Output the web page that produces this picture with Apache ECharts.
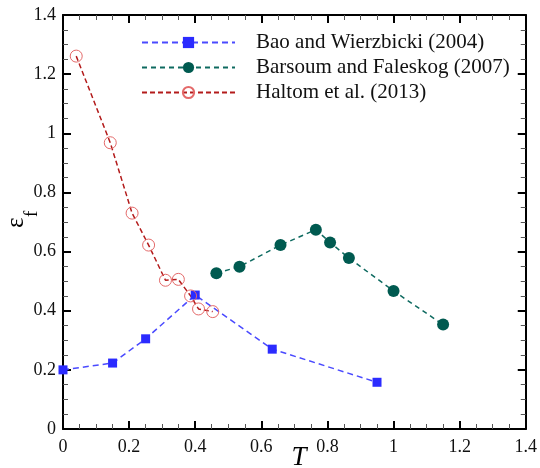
<!DOCTYPE html>
<html>
<head>
<meta charset="utf-8">
<script src="https://cdn.jsdelivr.net/npm/echarts@6/dist/echarts.min.js"></script>
<style>
  html, body { margin: 0; padding: 0; background: #fff; }
  #chart { width: 540px; height: 468px; }
</style>
</head>
<body>
<div id="chart"></div>
<script>
// Fracture strain vs. stress triaxiality, three published datasets
const seriesNames = [
  'Bao and Wierzbicki (2004)',
  'Barsoum and Faleskog (2007)',
  'Haltom et al. (2013)'
];
const baoT   = [0, 0.15, 0.25, 0.40, 0.633, 0.95];
const baoEps = [0.200, 0.223, 0.305, 0.453, 0.270, 0.158];

const barsoumT   = [0.464, 0.534, 0.658, 0.765, 0.808, 0.865, 1.00, 1.15];
const barsoumEps = [0.527, 0.549, 0.622, 0.674, 0.631, 0.578, 0.467, 0.353];

const haltomT   = [0.040, 0.143, 0.209, 0.259, 0.310, 0.349, 0.386, 0.410, 0.453];
const haltomEps = [1.261, 0.968, 0.730, 0.622, 0.503, 0.506, 0.450, 0.406, 0.397];

const axisMin = 0, axisMax = 1.4, axisStep = 0.2;

const pairs = (xs, ys) => xs.map((x, i) => [x, ys[i]]);
const serif = "'Liberation Serif', 'DejaVu Serif', 'Times New Roman', serif";
const fmt = v => String(+v.toFixed(1));

function axis(pos, labelMargin) {
  return {
    type: 'value',
    position: pos,
    min: axisMin, max: axisMax, interval: axisStep,
    axisLine: { show: true, onZero: false, lineStyle: { color: '#000', width: 2 } },
    axisTick: { show: true, inside: true, length: 8, lineStyle: { color: '#000', width: 2 } },
    minorTick: { show: true, splitNumber: 4, length: 5, lineStyle: { color: '#555', width: 1 } },
    splitLine: { show: false },
    axisLabel: {
      show: labelMargin != null,
      margin: labelMargin || 8,
      fontFamily: serif, fontSize: 18, color: '#111',
      formatter: fmt
    }
  };
}

const chart = echarts.init(document.getElementById('chart'), null, { renderer: 'canvas' });
chart.setOption({
  animation: false,
  backgroundColor: '#fff',
  grid: { left: 63, right: 11, top: 15, bottom: 39, containLabel: false },
  xAxis: [axis('bottom', 9), axis('top', null)],
  yAxis: [axis('left', 7), axis('right', null)],
  legend: {
    left: 141, top: 32, orient: 'vertical', padding: 0,
    itemWidth: 93, itemHeight: 14, itemGap: 4,
    textStyle: { fontFamily: serif, fontSize: 21, color: '#111', padding: [0, 0, 0, 16] },
    data: seriesNames
  },
  series: [
    {
      name: seriesNames[0], type: 'line',
      data: pairs(baoT, baoEps),
      symbol: 'rect', symbolSize: 9,
      itemStyle: { color: '#2b2bff' },
      lineStyle: { color: '#4a4aff', width: 1.5, type: [6, 4] }
    },
    {
      name: seriesNames[1], type: 'line',
      data: pairs(barsoumT, barsoumEps),
      symbol: 'circle', symbolSize: 12,
      itemStyle: { color: '#005a50' },
      lineStyle: { color: '#0e6a60', width: 1.5, type: [5, 4] }
    },
    {
      name: seriesNames[2], type: 'line',
      data: pairs(haltomT, haltomEps),
      symbol: 'circle', symbolSize: 12,
      itemStyle: { color: 'rgba(255,255,255,0)', borderColor: '#e46a6a', borderWidth: 1 },
      lineStyle: { color: '#b31b1b', width: 1.5, type: [5, 3] }
    }
  ],
  graphic: [
    {
      type: 'text', x: 299, y: 444,
      style: { text: 'T', fontFamily: serif, fontStyle: 'italic', fontSize: 27, fill: '#000', align: 'center', verticalAlign: 'top' }
    },
    {
      type: 'group', x: 29, y: 228, rotation: Math.PI / 2,
      children: [
        { type: 'text', x: 0, y: 0, style: { text: 'ε', fontFamily: serif, fontSize: 25, fill: '#000', verticalAlign: 'bottom' } },
        { type: 'text', x: 11, y: 13, style: { text: 'f', fontFamily: serif, fontSize: 19, fill: '#000', verticalAlign: 'bottom' } }
      ]
    }
  ]
});
</script>
</body>
</html>
